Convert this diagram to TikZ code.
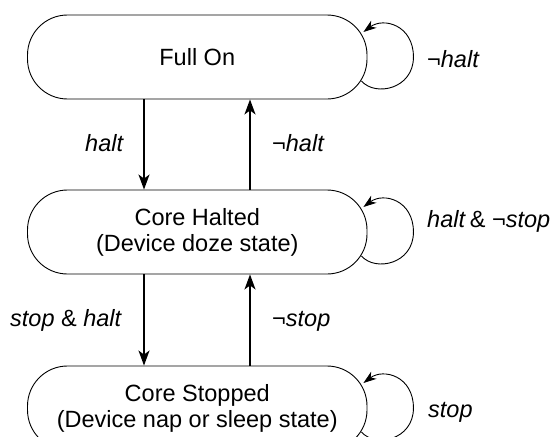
\documentclass[tikz,border=0pt]{standalone}
\usepackage{fontspec}
\setmainfont{Liberation Sans}
\usetikzlibrary{arrows.meta,calc}
\begin{document}
\begin{tikzpicture}[x=1pt,y=-1pt,
  statebox/.style={draw, line width=0.9pt, rounded corners=40pt, minimum width=339.5pt, minimum height=84pt, align=center, inner sep=0pt, font=\fontsize{23.5}{26}\selectfont},
  trans/.style={line width=1.6pt, -{Stealth[length=15pt,width=11pt,inset=4pt]}},
  selfloop/.style={line width=0.9pt, -{Stealth[length=13pt,width=9pt,inset=4pt]}},
  lbl/.style={anchor=base west, inner sep=0pt, font=\fontsize{23.5}{26}\selectfont}]
\clip (0,0) rectangle (553,436);
\node[statebox] (full) at (197.25,57) {Full On};
\node[statebox] (halted) at (197.25,232) {Core Halted\\(Device doze state)};
\node[statebox] (stopped) at (197.25,408) {Core Stopped\\(Device nap or sleep state)};
% vertical transitions
\draw[trans] (full.south -| 144,0) -- (halted.north -| 144,0);
\draw[trans] (halted.north -| 250,0) -- (full.south -| 250,0);
\draw[trans] (halted.south -| 144,0) -- (stopped.north -| 144,0);
\draw[trans] (stopped.north -| 250,0) -- (halted.south -| 250,0);
% self loops
\foreach \n in {full,halted,stopped}{
  \draw[selfloop] ($(\n.east)+(-6,24)$) .. controls ($(\n.east)+(8,40)$) and ($(\n.east)+(46,32)$) .. ($(\n.east)+(46,0)$)
     .. controls ($(\n.east)+(46,-32)$) and ($(\n.east)+(16,-40)$) .. ($(\n.east)+(-4,-25)$);
}
% labels
\node[lbl] (l1) at (427,67) {¬\textit{halt}};
\node[lbl] (l2) at (85,151) {\textit{halt}};
\node[lbl] (l3) at (272,151) {¬\textit{halt}};
\node[lbl] (l4) at (427,227) {\textit{halt}\,\&\ ¬\textit{stop}};
\node[lbl] (l5) at (10,326) {\textit{stop} \& \textit{halt}};
\node[lbl] (l6) at (272,326) {¬\textit{stop}};
\node[lbl] (l7) at (428,417) {\textit{stop}};
\end{tikzpicture}
\end{document}
